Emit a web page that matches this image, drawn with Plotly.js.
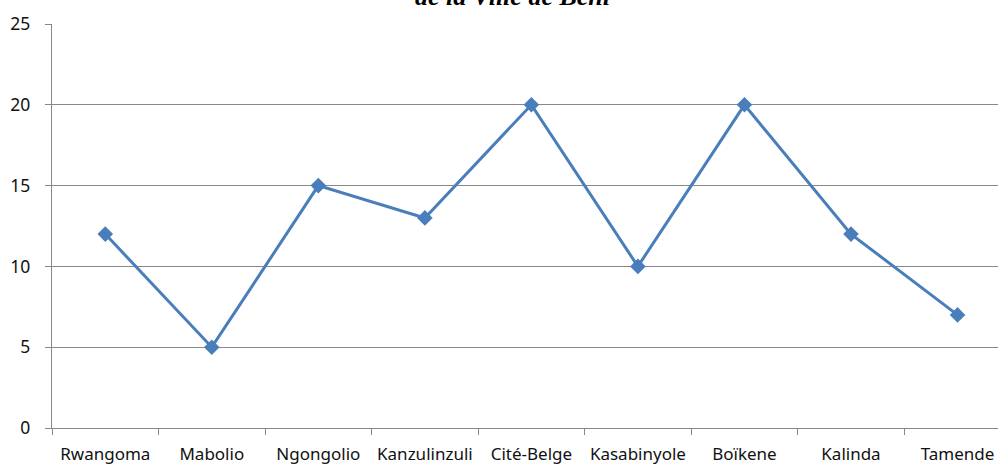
<!DOCTYPE html>
<html><head><meta charset="utf-8">
<script src="https://cdn.plot.ly/plotly-3.0.1.min.js"></script>
<style>html,body{margin:0;padding:0;overflow:hidden;background:#fff}</style>
</head><body>
<div id="chart" style="width:998px;height:464px"></div>
<script>
const quartiers = ["Rwangoma","Mabolio","Ngongolio","Kanzulinzuli","Cité-Belge","Kasabinyole","Boïkene","Kalinda","Tamende"];
const valeurs = [12, 5, 15, 13, 20, 10, 20, 12, 7];
const yTicks = [0, 5, 10, 15, 20, 25];
const titreVisible = "de la Ville de Beni";

const trace = {
  x: quartiers, y: valeurs, type: "scatter", mode: "lines+markers",
  line: {color: "#4A7EBB", width: 3},
  marker: {symbol: "diamond", size: 12, color: "#4A7EBB"},
  hoverinfo: "skip"
};
const layout = {
  width: 998, height: 464,
  margin: {l: 52, r: 0, t: 24, b: 36},
  paper_bgcolor: "#fff", plot_bgcolor: "#fff",
  showlegend: false,
  font: {family: "Noto Sans, Open Sans, sans-serif", color: "#000"},
  xaxis: {
    type: "category", range: [-0.5, 8.38],
    tickson: "boundaries", ticks: "outside", ticklen: 6, tickcolor: "#888",
    showline: true, linecolor: "#888", linewidth: 1.3,
    showgrid: false, zeroline: false,
    tickfont: {size: 17, family: "Noto Sans, sans-serif", color: "#111"},
    ticklabelstandoff: 10
  },
  yaxis: {
    range: [0, 25], tickvals: yTicks, ticktext: yTicks.map(String),
    ticks: "outside", ticklen: 6, tickcolor: "#888",
    showline: true, linecolor: "#888", linewidth: 1.3,
    showgrid: true, gridcolor: "#888", gridwidth: 1,
    zeroline: false,
    tickfont: {size: 17.5, family: "Noto Sans, sans-serif", color: "#111"},
    ticklabelstandoff: 11
  },
  annotations: [{
    text: "<b><i>" + titreVisible + "</i></b>",
    xref: "paper", yref: "paper", x: 0.487, y: 1.067,
    xanchor: "center", yanchor: "middle", showarrow: false,
    font: {family: "Liberation Serif, DejaVu Serif, serif", size: 26, color: "#000"}
  }]
};
Plotly.newPlot("chart", [trace], layout, {displayModeBar: false, staticPlot: true});
</script>
</body></html>
